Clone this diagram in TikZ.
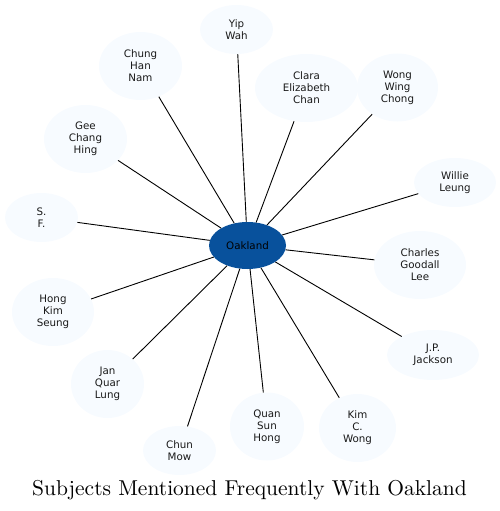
\documentclass[tikz,border=0pt]{standalone}
\usepackage{fontspec}
\newfontfamily\titlefont[Extension=.otf]{lmroman10-regular}
\newfontfamily\labelfont{DejaVu Sans}
\usetikzlibrary{shapes.geometric}
\definecolor{lightfill}{HTML}{F7FBFF}
\definecolor{hubfill}{HTML}{08519C}
\tikzset{
  ent/.style={ellipse, fill=lightfill, inner sep=0pt, align=center,
    font=\labelfont\fontsize{10.3}{12}\selectfont, text=black!90},
  hub/.style={ellipse, fill=hubfill, inner sep=0pt, align=center,
    font=\labelfont\fontsize{10.3}{12}\selectfont, text=black},
  link/.style={draw=black, line width=0.9pt}
}
\newcommand{\ent}[5]{\node[ent, minimum width=#3pt, minimum height=#4pt] (#5) at (#1,#2)}
\begin{document}
\begin{tikzpicture}[x=1pt,y=-1pt]
\useasboundingbox (0,0) rectangle (500,511);
\node[hub, minimum width=77pt, minimum height=47pt] (oak) at (247.5,245.5) {Oakland};
\ent{236.5}{29.5}{73}{49}{yip} {Yip\\Wah};
\ent{140.5}{66}{83}{68}{chn} {Chung\\Han\\Nam};
\ent{306.5}{88}{103}{68}{cla} {Clara\\Elizabeth\\Chan};
\ent{397.5}{87.5}{81}{68}{wwc} {Wong\\Wing\\Chong};
\ent{85.5}{139}{83}{68}{gee} {Gee\\Chang\\Hing};
\ent{455}{182.5}{82}{49}{wil} {Willie\\Leung};
\ent{41.5}{217.5}{73}{49}{sf} {S.\\F.};
\ent{420}{265}{92}{68}{cgl} {Charles\\Goodall\\Lee};
\ent{53}{312}{82}{68}{hks} {Hong\\Kim\\Seung};
\ent{433}{355}{92}{50}{jpj} {J.P.\\Jackson};
\ent{107.5}{384}{73}{68}{jql} {Jan\\Quar\\Lung};
\ent{267}{426.5}{74}{68}{qsh} {Quan\\Sun\\Hong};
\ent{357.5}{428}{77}{68}{kcw} {Kim\\C.\\Wong};
\ent{179.5}{450.5}{73}{49}{cm} {Chun\\Mow};
\foreach \n in {yip,chn,cla,wwc,gee,wil,sf,cgl,hks,jpj,jql,qsh,kcw,cm}
  \draw[link] (oak) -- (\n);
\node[font=\titlefont\fontsize{21.5}{24}\selectfont, anchor=base, inner sep=0pt] (title) at (249.5,495) {Subjects Mentioned Frequently With Oakland};
\end{tikzpicture}
\end{document}
